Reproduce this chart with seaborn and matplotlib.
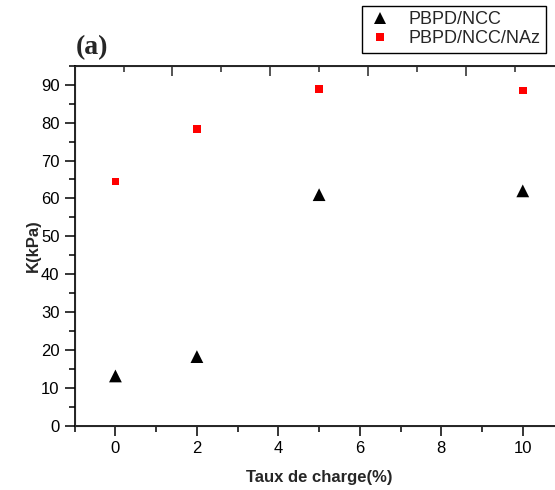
import numpy as np
import pandas as pd
import matplotlib
matplotlib.use("Agg")
import matplotlib.pyplot as plt
import seaborn as sns
from matplotlib.ticker import MultipleLocator

# data
taux = [0, 2, 5, 10]
k_ncc = [13.2, 18.3, 61.0, 62.0]
k_ncc_naz = [64.5, 78.3, 88.9, 88.5]
series_names = ["PBPD/NCC", "PBPD/NCC/NAz"]

df = pd.DataFrame({
    "taux": taux * 2,
    "K": k_ncc + k_ncc_naz,
    "serie": [series_names[0]] * len(taux) + [series_names[1]] * len(taux),
})

sns.set_style("ticks")
plt.rcParams["font.family"] = ["Liberation Sans", "DejaVu Sans"]

fig = plt.figure(figsize=(5.55, 4.9), dpi=100)
ax = fig.add_axes([0.1346, 0.1306, 0.8807, 0.7353])

sns.scatterplot(data=df, x="taux", y="K", hue="serie", style="serie",
                palette={series_names[0]: "black", series_names[1]: "#ff0000"},
                markers={series_names[0]: "^", series_names[1]: "s"},
                size="serie", sizes={series_names[0]: 85, series_names[1]: 30},
                edgecolor="none", linewidth=0, ax=ax)

ax.set_xlim(-1, 11)
ax.set_ylim(0, 95)
ax.xaxis.set_major_locator(MultipleLocator(2))
ax.xaxis.set_minor_locator(MultipleLocator(1))
ax.yaxis.set_major_locator(MultipleLocator(10))
ax.yaxis.set_minor_locator(MultipleLocator(5))
ax.tick_params(which="major", length=7, width=1.1, labelsize=12, colors="black", pad=4)
ax.tick_params(which="minor", length=4, width=1.1, colors="black")
for s in ax.spines.values():
    s.set_linewidth(1.2)
    s.set_color("black")
ax.spines["top"].set_visible(True)
ax.spines["right"].set_visible(True)

ax.set_xlabel("Taux de charge(%)", fontsize=12, fontweight="bold", labelpad=10)
ax.set_ylabel("K(kPa)", fontsize=12, fontweight="bold", labelpad=0)

# top axis with its own inward ticks, no labels
top = ax.twiny()
top.set_xlim(0, 10)
top.xaxis.set_major_locator(MultipleLocator(2))
top.xaxis.set_minor_locator(MultipleLocator(1))
top.tick_params(axis="x", which="major", direction="in", length=7, width=1.1, labeltop=False)
top.tick_params(axis="x", which="minor", direction="in", length=4, width=1.1)
top.grid(False)

sns.move_legend(ax, loc="upper left", bbox_to_anchor=(0.652, 0.988),
                bbox_transform=fig.transFigure, title=None, fontsize=13,
                frameon=True, fancybox=False, edgecolor="black",
                borderpad=0.3, labelspacing=0.1, handletextpad=0.9,
                borderaxespad=0, handlelength=1.4)
leg = ax.get_legend()
leg.get_frame().set_linewidth(1.0)
leg.get_frame().set_alpha(1)

fig.text(0.166, 0.903, "(a)", fontsize=20, fontweight="bold",
         family=["Liberation Serif", "DejaVu Serif"], ha="center", va="center")

fig.savefig("out.png", dpi=100)
